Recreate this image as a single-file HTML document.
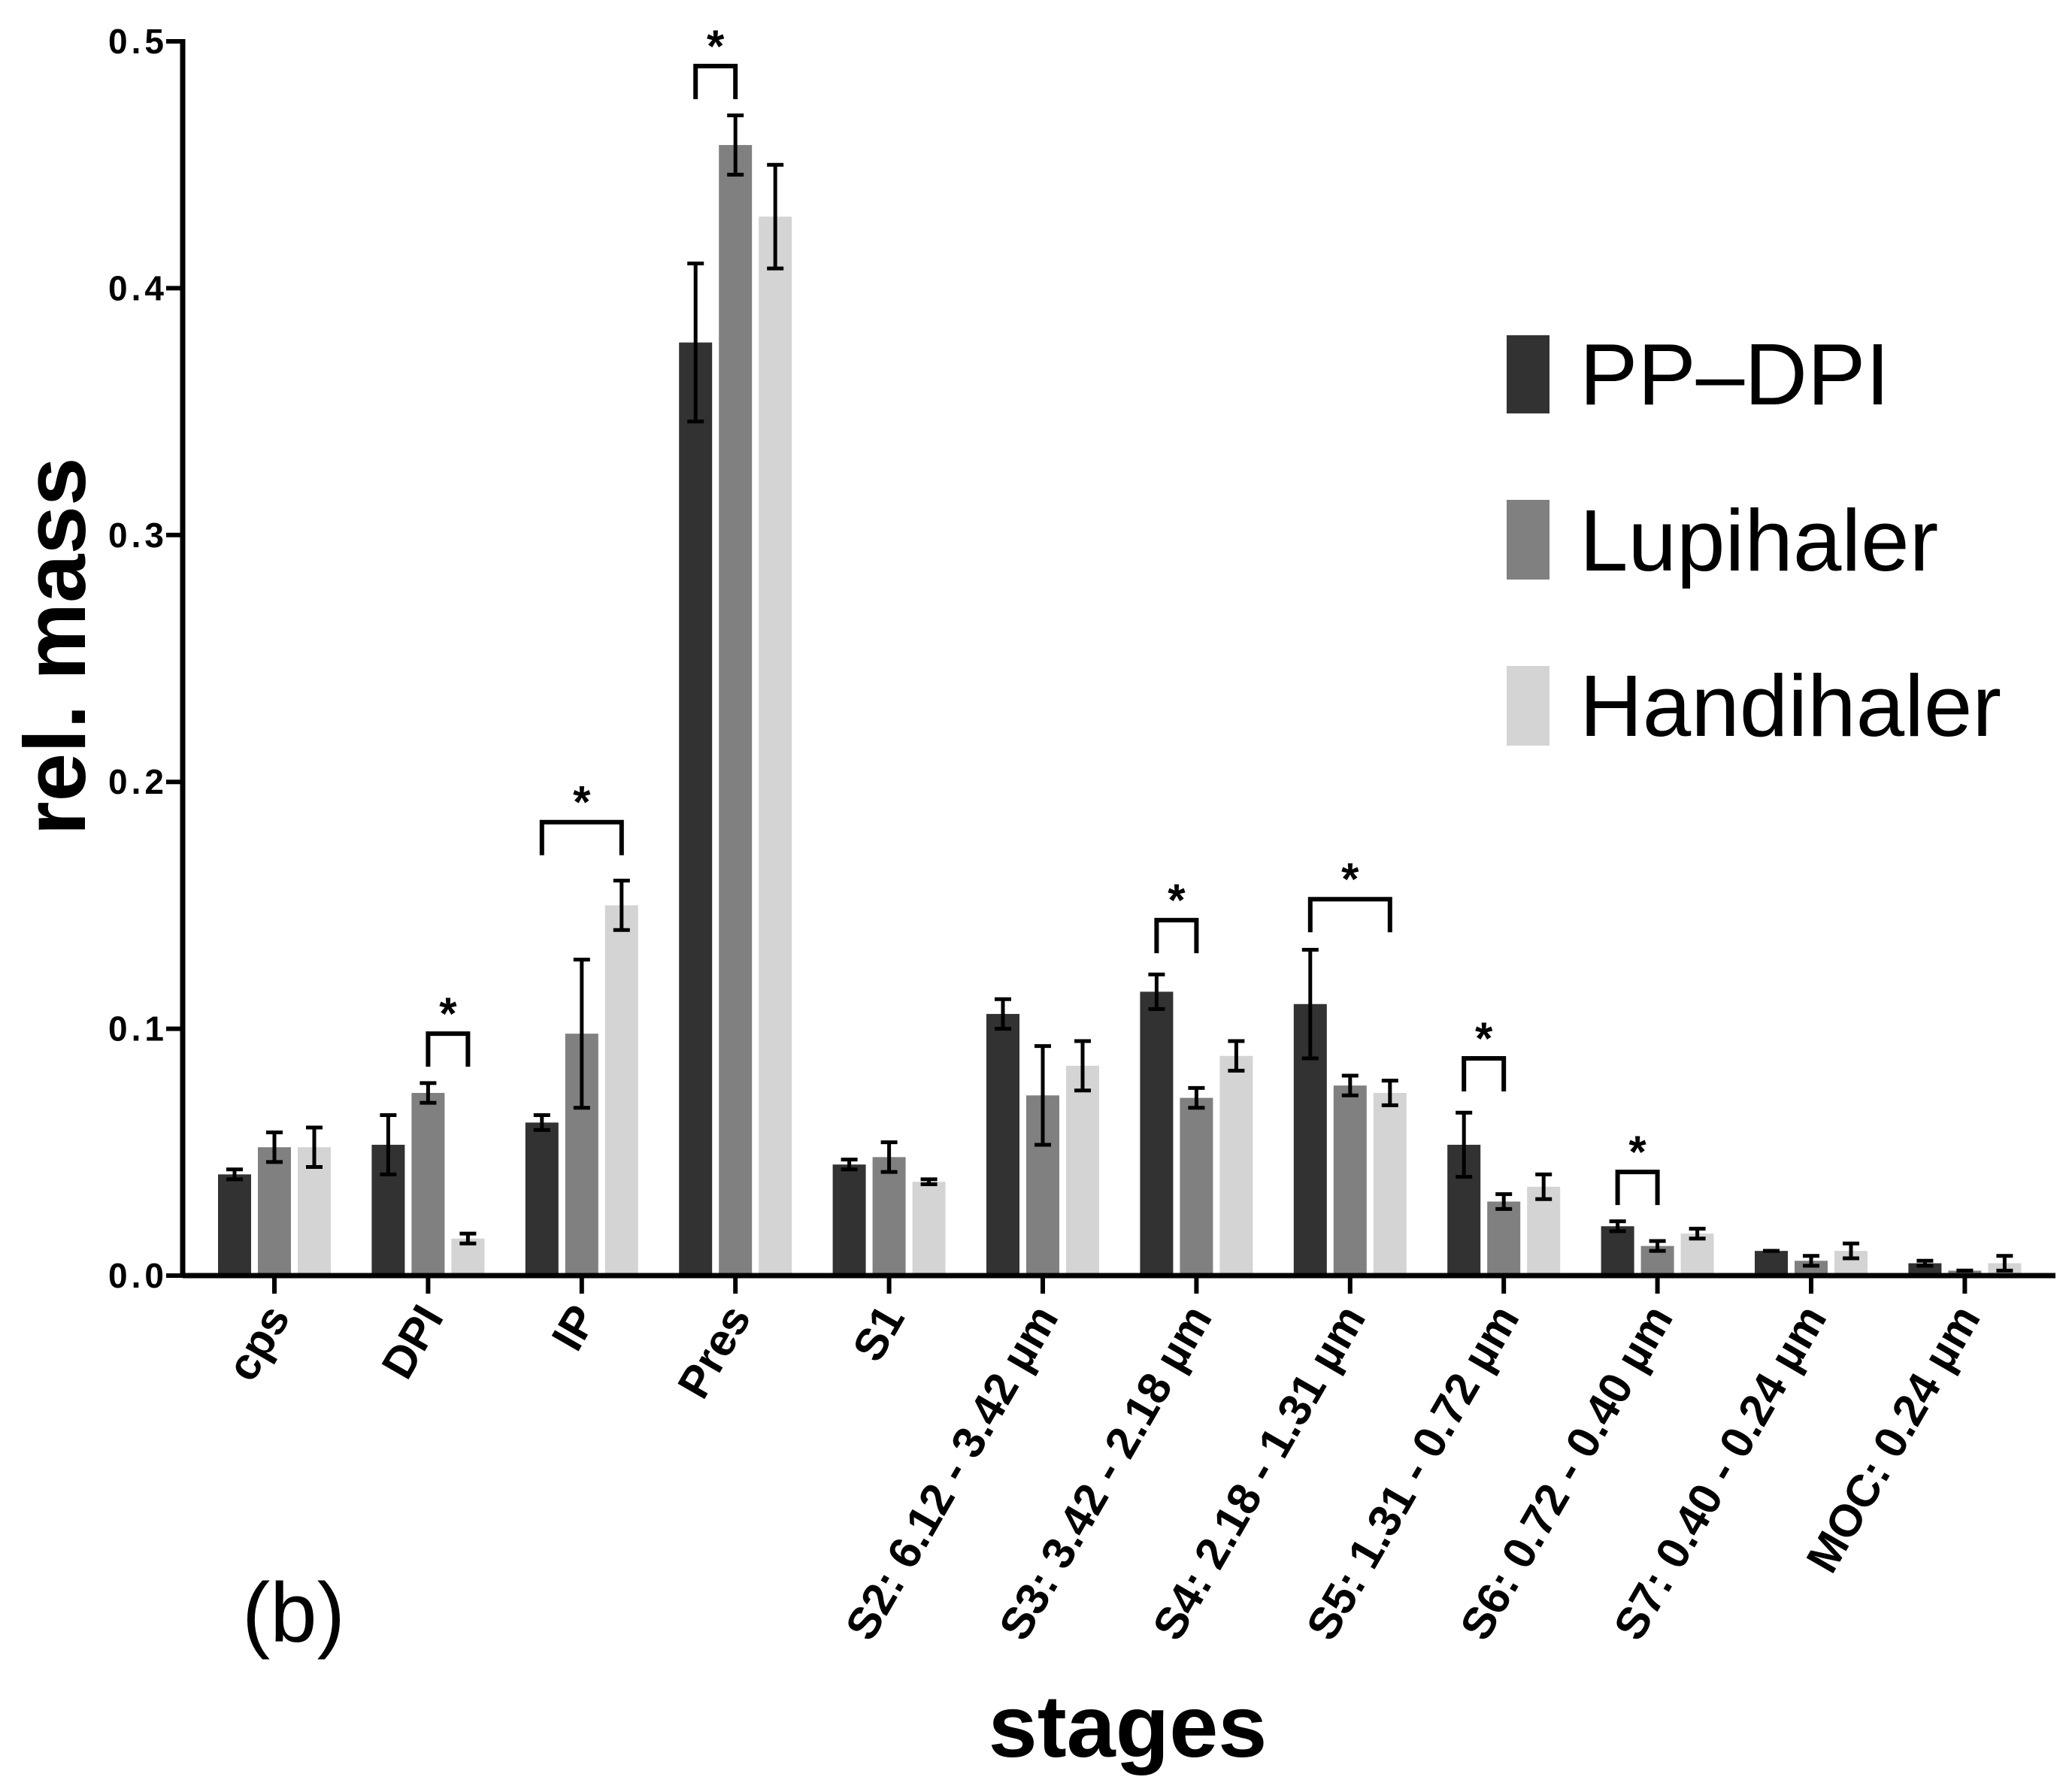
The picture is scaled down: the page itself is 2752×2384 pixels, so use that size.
<!DOCTYPE html>
<html><head><meta charset="utf-8"><style>
html,body{margin:0;padding:0;background:#fff;}
svg{display:block;font-family:"Liberation Sans",Arial,sans-serif;}
</style></head><body>
<svg id="chart" width="2752" height="2384" viewBox="0 0 2752 2384" xmlns="http://www.w3.org/2000/svg">
<g id="bars"></g>
<g id="axes"></g>
<text x="0" y="0" transform="translate(113,860) rotate(-90)" text-anchor="middle" font-weight="bold" font-size="116">rel. mass</text>
<text x="1500" y="2337" text-anchor="middle" font-weight="bold" font-size="117">stages</text>
<text x="322" y="2184" font-size="112">(b)</text>
<g>
  <rect x="2004" y="446" width="57" height="104" fill="#323232"/>
  <text x="2101" y="538" font-size="116">PP–DPI</text>
  <rect x="2004" y="665" width="57" height="106" fill="#808080"/>
  <text x="2101" y="759" font-size="116">Lupihaler</text>
  <rect x="2004" y="886" width="57" height="106" fill="#d4d4d4"/>
  <text x="2101" y="979" font-size="116">Handihaler</text>
</g>
</svg>
<script>
const categories = ["cps","DPI","IP","Pres","S1","S2: 6.12 - 3.42 µm","S3: 3.42 - 2.18 µm","S4: 2.18 - 1.31 µm","S5: 1.31 - 0.72 µm","S6: 0.72 - 0.40 µm","S7: 0.40 - 0.24 µm","MOC: 0.24 µm"];
const ppdpi = [0.041,0.053,0.062,0.378,0.045,0.106,0.115,0.110,0.053,0.020,0.010,0.005];
const ppdpiErr = [0.002,0.012,0.003,0.032,0.002,0.006,0.007,0.022,0.013,0.002,0,0.001];
const lupihaler = [0.052,0.074,0.098,0.458,0.048,0.073,0.072,0.077,0.030,0.012,0.006,0.002];
const lupihalerErr = [0.006,0.004,0.030,0.012,0.006,0.020,0.004,0.004,0.003,0.002,0.002,0];
const handihaler = [0.052,0.015,0.150,0.429,0.038,0.085,0.089,0.074,0.036,0.017,0.010,0.005];
const handihalerErr = [0.008,0.002,0.010,0.021,0.001,0.010,0.006,0.005,0.005,0.002,0.003,0.003];
const yTicks = [0.0,0.1,0.2,0.3,0.4,0.5];
const yTickLabels = ["0.0","0.1","0.2","0.3","0.4","0.5"];
// significance: category index, from series, to series, bracket value
const sigCat = [1,2,3,6,7,8,9];
const sigFrom = [1,0,0,0,0,0,0];
const sigTo = [2,2,1,1,2,1,1];
const sigLevel = [0.098,0.1837,0.490,0.144,0.1525,0.088,0.042];

const NS="http://www.w3.org/2000/svg";
const X0=243, X1=2734, Y0=1697, Y1=55, FIRST=365, BAND=204.4;
function y(v){return Y0-(v/0.5)*(Y0-Y1);}
function xc(i){return FIRST+BAND*i;}
function xs(i,s){return xc(i)+(s-1)*53;}
function mk(tag,attrs,parent){const e=document.createElementNS(NS,tag);for(const k in attrs)e.setAttribute(k,attrs[k]);parent.appendChild(e);return e;}
const bars=document.getElementById('bars'), axes=document.getElementById('axes');
const series=[ppdpi,lupihaler,handihaler], errs=[ppdpiErr,lupihalerErr,handihalerErr];
const colors=["#323232","#808080","#d4d4d4"], snames=["pp-dpi","lupihaler","handihaler"];
categories.forEach((c,i)=>{
  series.forEach((vals,s)=>{
    const cx=xs(i,s), v=vals[i];
    const r=mk('rect',{x:cx-22,y:y(v),width:44,height:Y0-y(v),fill:colors[s]},bars);
    
    
    const e=errs[s][i];
    const g=mk('g',{stroke:'#000','stroke-width':5,fill:'none'},bars);
    
    
    mk('line',{x1:cx,x2:cx,y1:y(v-e),y2:y(v+e)},g);
    mk('line',{x1:cx-11,x2:cx+11,y1:y(v-e),y2:y(v-e)},g);
    mk('line',{x1:cx-11,x2:cx+11,y1:y(v+e),y2:y(v+e)},g);
  });
  const t=mk('line',{x1:xc(i),x2:xc(i),y1:Y0,y2:Y0+24,stroke:'#000','stroke-width':6},axes);
  
  
  const lx=xc(i)+22, ly=Y0+55;
  const tx=mk('text',{x:lx,y:ly,'text-anchor':'end','font-weight':'bold','font-size':60,transform:`rotate(-60 ${lx} ${ly})`},axes);
  tx.textContent=c;
  
  
});
sigCat.forEach((ci,k)=>{
  const xa=xs(ci,sigFrom[k]), xb=xs(ci,sigTo[k]), yt=y(sigLevel[k]);
  const p=mk('path',{d:`M${xa} ${yt+44} V${yt} H${xb} V${yt+44}`,stroke:'#000','stroke-width':6,fill:'none'},bars);
  
  
  const st=mk('text',{x:(xa+xb)/2,y:yt-6,'text-anchor':'middle','font-weight':'bold','font-size':60},bars);
  st.textContent='*';
  
  
});
const ya=mk('line',{x1:X0,x2:X0,y1:Y1-3,y2:Y0+3,stroke:'#000','stroke-width':7},axes);


const xa=mk('line',{x1:X0,x2:X1,y1:Y0,y2:Y0,stroke:'#000','stroke-width':7},axes);


yTicks.forEach((v,k)=>{
  const l=mk('line',{x1:X0-22,x2:X0,y1:y(v),y2:y(v),stroke:'#000','stroke-width':6},axes);
  
  
  const t=mk('text',{x:X0-20,y:y(v)+16,'text-anchor':'end','font-weight':'bold','font-size':46,'letter-spacing':5},axes);
  t.textContent=yTickLabels[k];
  
  
});
</script>
</body></html>
